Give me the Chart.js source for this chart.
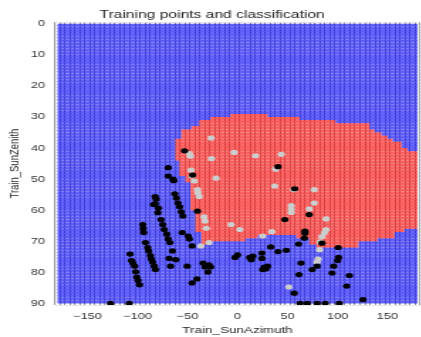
<!DOCTYPE html>
<html><head><meta charset="utf-8">
<script src="https://cdn.jsdelivr.net/npm/chart.js@4/dist/chart.umd.min.js"></script>
<style>
html,body{margin:0;padding:0;background:#fff;overflow:hidden;width:421px;height:337px;}
#wrap{width:300px;height:337px;transform:scaleX(1.42);transform-origin:0 0;}
canvas{display:block;}
</style></head><body>
<div id="wrap"><canvas id="c" width="300" height="337"></canvas></div>
<script>
const chartTitle = 'Training points and classification';
const xLabel = 'Train_SunAzimuth';
const yLabel = 'Train_SunZenith';
const xTicks = [-150, -100, -50, 0, 50, 100, 150];
const yTicks = [0, 10, 20, 30, 40, 50, 60, 70, 80, 90];

// classification mesh: red class, one entry per row segment (row centre zenith, start/end azimuth)
const redRowZen   = [29.5, 30.5, 31.5, 32.5, 33.5, 34.5, 35.5, 36.5, 37.5, 38.5, 39.5, 40.5, 41.5, 42.5, 43.5,
                     44.5, 45.5, 46.5, 47.5, 48.5, 49.5, 50.5, 51.5, 52.5, 53.5, 54.5, 55.5, 56.5, 57.5, 58.5, 59.5,
                     60.5, 61.5, 62.5, 63.5, 64.5, 65.5, 66.5, 67.5, 68.5, 68.5, 69.5, 69.5, 70.5, 70.5, 71.5];
const redRowStart = [-7, -27, -38, -38, -46, -56, -56, -56, -62, -62, -62, -62, -62, -62, -62,
                     -58, -58, -58, -58, -58, -52, -52, -47, -47, -47, -47, -47, -47, -47, -47, -47,
                     -42, -42, -42, -42, -42, -42, -42, -36, -36, 59, -36, 72, -36, 72, 79];
const redRowEnd   = [30, 62, 98, 132, 132, 137, 144, 150, 155, 164, 164, 170, 180, 180, 180,
                     180, 180, 180, 180, 180, 180, 180, 180, 180, 180, 180, 180, 180, 180, 180, 180,
                     180, 180, 180, 180, 180, 180, 167, 157, 20, 157, 8, 140, -28, 121, 121];

// training points, class "black"
const blackAz  = [-52.9, -69.3, -69.3, -64.4, -63.7, -82.3, -81.3, -82.3, -83.9, -79.0, -79.6, -76.4, -74.7, -73.2,
                  -70.8, -69.3, -67.6, -65.0, -68.3, -61.7, -66.9, -50.3, -40.5, -45.4,
                  -62.7, -61.1, -59.5, -57.8, -56.2, -54.6, -40.0, -55.2, -49.3, -48.1, -45.4,
                  -34.4, -28.5, -26.9, -29.5, -32.4,
                  -94.7, -94.3, -93.7, -92.0, -89.8, -88.8, -87.1, -86.2, -84.9, -83.2, -82.0,
                  -107.4, -106.0, -104.5, -102.8, -101.8, -100.8, -99.5, -97.9, -126.9, -108.3,
                  57.2, 71.8, 47.4, 67.5, 67.5, 66.9, 84.5, 61.1, 100.7, 33.3, 40.5, 48.9, 24.5, 24.5,
                  0.1, -2.4, 12.2, 13.8, 15.4, 26.9, 28.4, 25.2, 30.1, 63.6, 101.1, 100.1, 96.2, 74.7,
                  79.6, 94.6, 61.6, 111.9, 109.2, 56.8, 125.5, 62.6, 69.9, 79.6, 87.7, 101.7, 40.5, -44.8];
const blackZen = [40.9, 46.3, 49.0, 50.0, 50.5, 55.6, 56.4, 57.9, 58.2, 59.3, 60.8, 63.0, 64.6, 66.2,
                  67.7, 69.3, 70.4, 73.1, 75.5, 75.9, 78.0, 78.0, 82.1, 83.4,
                  54.7, 56.1, 57.7, 58.9, 60.5, 61.9, 60.3, 67.2, 68.3, 69.3, 71.5,
                  77.0, 77.6, 78.3, 79.9, 78.3,
                  64.6, 65.9, 67.2, 70.4, 72.0, 73.1, 74.6, 75.7, 76.7, 78.0, 79.1,
                  74.1, 76.2, 77.0, 78.0, 79.8, 81.5, 82.6, 84.0, 90, 90,
                  53.1, 61.4, 63.0, 66.7, 67.4, 69.0, 70.6, 70.9, 72.0, 71.8, 73.3, 72.9, 73.8, 75.5,
                  74.4, 75.2, 75.2, 75.9, 74.8, 78.3, 78.9, 79.1, 78.0, 77.0, 75.2, 76.2, 78.0, 79.1,
                  78.0, 80.2, 80.7, 81.0, 84.4, 86.7, 88.8, 90, 90, 90, 90, 90, 46.0, 48.7];

// training points, class "grey"
const greyAz  = [-26.3, -3.4, 18.1, 43.8, -48.1, -47.1, -25.9, -46.4, -45.4, -43.2, -21.4, -40.0, -39.5, -38.3,
                 38.2, 37.2, 56.2, 53.8, 53.8, 53.8, -33.4, -32.4, 76.7, 76.7, 71.8, 88.7, -6.4, 2.4, 34.3,
                 -31.2, 25.2, -28.5, -36.6, 88.7, 87.0, 84.5, 82.8, 82.2, 80.6, 79.6, 51.3];
const greyZen = [36.8, 41.4, 42.5, 42.0, 41.8, 42.6, 43.4, 47.1, 49.0, 50.6, 49.7, 53.4, 54.5, 55.6,
                 46.8, 52.2, 53.4, 58.5, 59.6, 60.7, 62.1, 63.5, 53.4, 57.7, 59.6, 62.8, 64.6, 66.2, 66.9,
                 65.8, 68.3, 70.4, 71.5, 66.2, 67.2, 68.5, 70.2, 72.7, 75.7, 76.7, 84.7];

// mesh pitch (degrees)
const meshStepAz = 5;
const meshStepZen = 1;

// blue class = rest of the mesh
const blueRowZen = [], blueRowStart = [], blueRowEnd = [];
for (let z = 0; z < 90; z += meshStepZen) {
  const c = z + meshStepZen / 2;
  const segs = [];
  redRowZen.forEach((rz, i) => { if (rz === c) segs.push([redRowStart[i], redRowEnd[i]]); });
  segs.sort((a, b) => a[0] - b[0]);
  let cur = -180;
  segs.forEach(s => {
    if (s[0] > cur) { blueRowZen.push(c); blueRowStart.push(cur); blueRowEnd.push(s[0]); }
    cur = Math.max(cur, s[1]);
  });
  if (cur < 180) { blueRowZen.push(c); blueRowStart.push(cur); blueRowEnd.push(180); }
}

const toBars = (zs, a, b) => zs.map((z, i) => ({ x: [a[i], b[i]], y: z }));
const toPts = (xs, ys) => xs.map((x, i) => ({ x: x, y: ys[i] }));

const FONT = "'Liberation Sans', Arial, sans-serif";
const TXT = '#333333';
const fmt = v => (v < 0 ? '\u2212' + Math.abs(v) : String(v));

new Chart(document.getElementById('c'), {
  type: 'bar',
  data: {
    datasets: [
      { type: 'scatter', label: 'black', data: toPts(blackAz, blackZen), order: 0,
        backgroundColor: '#000000', borderWidth: 0, pointRadius: 2.6, clip: 0 },
      { type: 'scatter', label: 'grey', data: toPts(greyAz, greyZen), order: 1,
        backgroundColor: 'rgb(205,205,205)', borderWidth: 0, pointRadius: 2.6, clip: 0 },
      { type: 'bar', label: 'red', data: toBars(redRowZen, redRowStart, redRowEnd), order: 2,
        indexAxis: 'y', grouped: false, categoryPercentage: 1, barPercentage: 1, inflateAmount: 0,
        backgroundColor: 'rgba(255,0,0,0.6)', borderWidth: 0 },
      { type: 'bar', label: 'blue', data: toBars(blueRowZen, blueRowStart, blueRowEnd), order: 3,
        indexAxis: 'y', grouped: false, categoryPercentage: 1, barPercentage: 1, inflateAmount: 0,
        backgroundColor: 'rgba(0,0,255,0.6)', borderWidth: 0 }
    ]
  },
  options: {
    responsive: false,
    animation: false,
    events: [],
    layout: { padding: { left: 0, right: 1.3, top: 0, bottom: 0 } },
    plugins: {
      legend: { display: false },
      tooltip: { enabled: false },
      title: { display: true, text: chartTitle, color: '#262626',
               font: { family: FONT, size: 11, weight: 'normal' }, padding: { top: 8, bottom: 1 } }
    },
    scales: {
      x: {
        type: 'linear', min: -180, max: 180,
        afterBuildTicks: s => { s.ticks = []; for (let v = -180; v <= 180; v += meshStepAz) s.ticks.push({ value: v }); },
        afterFit: s => { s.height = 32; },
        ticks: { autoSkip: false, maxRotation: 0, minRotation: 0, padding: 6, color: TXT,
                 font: { family: FONT, size: 9 }, callback: v => (xTicks.includes(v) ? fmt(v) : '') },
        grid: { color: '#6a6a6a', lineWidth: 0.7, drawTicks: false },
        border: { display: false },
        title: { display: true, text: xLabel, color: '#262626', font: { family: FONT, size: 9.5 },
                 padding: { top: 0, bottom: 1 } }
      },
      y: {
        type: 'linear', min: 0, max: 90, reverse: true,
        afterBuildTicks: s => { s.ticks = []; for (let v = 0; v <= 90; v += meshStepZen) s.ticks.push({ value: v }); },
        afterFit: s => { s.width = 38.7; },
        ticks: { autoSkip: false, padding: 7, color: TXT, font: { family: FONT, size: 9 },
                 callback: v => (yTicks.includes(v) ? fmt(v) : '') },
        grid: { color: '#dddddd', lineWidth: 0.7, drawTicks: false },
        border: { display: false },
        title: { display: true, text: yLabel, color: '#262626', font: { family: FONT, size: 9.5 },
                 padding: { top: 5, bottom: 0 } }
      }
    }
  }
});
</script>
</body></html>
